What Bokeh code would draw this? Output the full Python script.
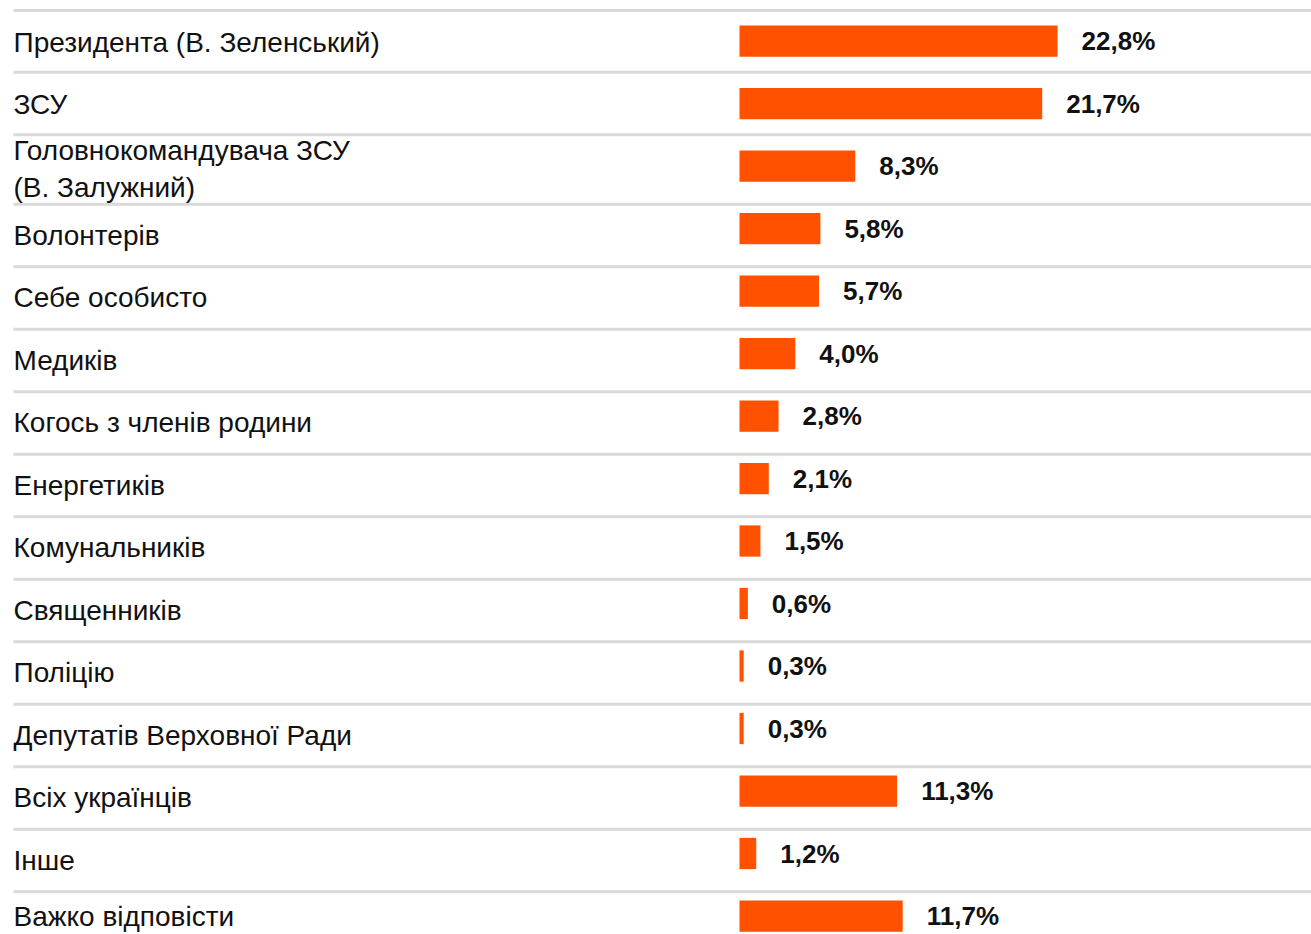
from bokeh.plotting import figure
from bokeh.models import Range1d, ColumnDataSource
from bokeh.core.properties import value
from bokeh.embed import file_html
from bokeh.resources import INLINE

categories = [
    "Президента (В. Зеленський)",
    "ЗСУ",
    "Головнокомандувача ЗСУ\n(В. Залужний)",
    "Волонтерів",
    "Себе особисто",
    "Медиків",
    "Когось з членів родини",
    "Енергетиків",
    "Комунальників",
    "Священників",
    "Поліцію",
    "Депутатів Верховної Ради",
    "Всіх українців",
    "Інше",
    "Важко відповісти",
]
values = [22.8, 21.7, 8.3, 5.8, 5.7, 4.0, 2.8, 2.1, 1.5, 0.6, 0.3, 0.3, 11.3, 1.2, 11.7]
value_labels = [f"{v:.1f}".replace(".", ",") + "%" for v in values]

W, H = 1311, 934
PX_PER_UNIT = 13.95
ROW = 62.5
x0_px = 739          # zero position inside frame
y0_px = 40.5         # first row centre inside frame

x_start = -x0_px / PX_PER_UNIT
x_end = (W - x0_px) / PX_PER_UNIT
y_top = -y0_px / ROW
y_bottom = (H - y0_px) / ROW

p = figure(width=W, height=H, output_backend="svg", toolbar_location=None,
           x_range=Range1d(x_start, x_end), y_range=Range1d(y_bottom, y_top),
           min_border=0, outline_line_color=None)
p.axis.visible = False
p.grid.visible = False
p.background_fill_color = "white"

idx = list(range(len(categories)))
# label rows below the two-line one sit a little lower in their cells
lab_y = [i + (0.02 if i < 2 else (0.05 if i == 2 else 0.105)) for i in idx]
lab_y[-1] = idx[-1] + 0.0
src = ColumnDataSource(dict(y=idx, ly=lab_y, v=values, cat=categories, lab=value_labels,
                            zero=[0] * len(idx), xl=[x_start] * len(idx)))

# separators
sep_y = [-0.49]
for i in idx[:-1]:
    sep_y.append(i + (0.5 if i < 2 else 0.61))
p.segment(x0=[x_start + 13 / PX_PER_UNIT] * len(sep_y), x1=[x_end] * len(sep_y),
          y0=sep_y, y1=sep_y, line_color="#d9d9d9", line_width=3)

p.hbar(y="y", left="zero", right="v", height=0.5, source=src,
       fill_color="#ff5100", line_color=None)

p.text(x="xl", y="ly", text="cat", source=src, x_offset=13,
       text_font=value("Liberation Sans"), text_font_size="28px",
       text_color="#111111", text_baseline="middle", text_align="left",
       text_line_height=1.2)

p.text(x="v", y="y", text="lab", source=src, x_offset=24,
       text_font=value("Liberation Sans"), text_font_size="26px", text_font_style="bold",
       text_color="#111111", text_baseline="middle", text_align="left")

open("out.html", "w").write(file_html(p, INLINE))
